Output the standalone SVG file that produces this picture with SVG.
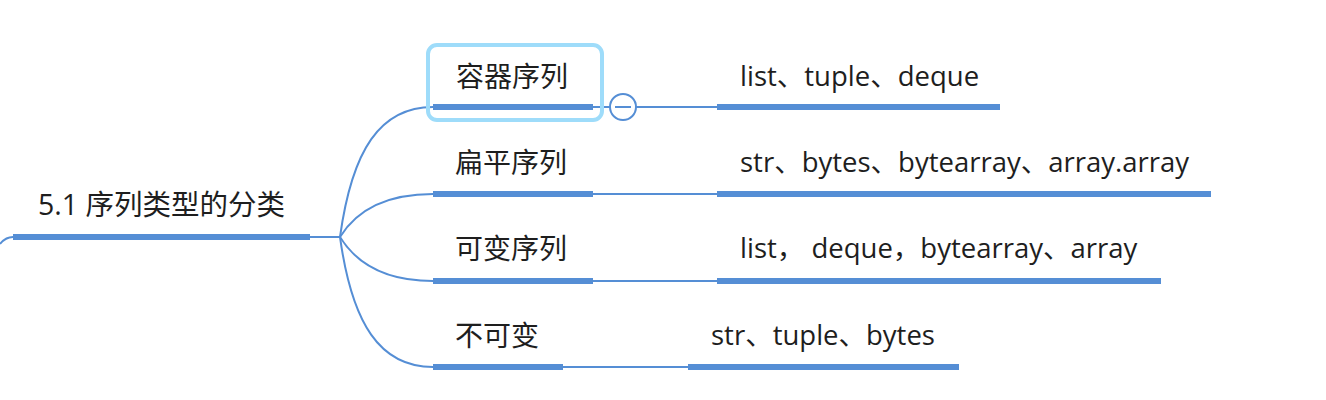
<svg xmlns="http://www.w3.org/2000/svg" width="1326" height="400" viewBox="0 0 1326 400">
<style>
.t{font-family:"Open Sans","Noto Sans CJK SC",sans-serif;font-size:27.5px;fill:#1e1e1e}
.c{font-size:28px}
.r{font-size:28.5px}
.bar{stroke:#558ed5;stroke-width:6;fill:none}
.ln{stroke:#558ed5;stroke-width:2;fill:none}
</style>
<rect width="1326" height="400" fill="#ffffff"/>
<g id="connectors">
<path class="ln" d="M0 244 C4 239 8 237 13 237"/>
<path class="ln" d="M310 237 L340 237"/>
<path class="ln" d="M340 237 C352 150 380 107 433 107"/>
<path class="ln" d="M340 237 C358 208 390 194 433 194"/>
<path class="ln" d="M340 237 C358 266 390 281 433 281"/>
<path class="ln" d="M340 237 C352 324 380 367 433 367"/>
<path class="ln" d="M593 107 L610 107 M636 107 L717 107"/>
<path class="ln" d="M593 194 L717 194"/>
<path class="ln" d="M593 281 L717 281"/>
<path class="ln" d="M563 367 L688 367"/>
</g>
<g id="root">
<line class="bar" x1="13" y1="237" x2="310" y2="237"/>
<text class="t r" x="38" y="215">5.1 序列类型的分类</text>
</g>
<g id="n1">
<rect x="428" y="45" width="174" height="75" rx="9" fill="none" stroke="#9edcfa" stroke-width="4"/>
<line class="bar" x1="433" y1="107" x2="593" y2="107"/>
<text class="t c" x="456" y="87">容器序列</text>
<g id="collapse">
<circle cx="623" cy="107" r="13" fill="#ffffff" stroke="#558ed5" stroke-width="2"/>
<line x1="615" y1="107" x2="631" y2="107" stroke="#558ed5" stroke-width="2"/>
</g>
</g>
<g id="n1a">
<line class="bar" x1="717" y1="107" x2="1000" y2="107"/>
<text class="t" x="740" y="86">list、tuple、deque</text>
</g>
<g id="n2">
<line class="bar" x1="433" y1="194" x2="593" y2="194"/>
<text class="t c" x="455" y="173">扁平序列</text>
</g>
<g id="n2a">
<line class="bar" x1="717" y1="194" x2="1211" y2="194"/>
<text class="t" x="740" y="172">str、bytes、bytearray、array.array</text>
</g>
<g id="n3">
<line class="bar" x1="433" y1="281" x2="593" y2="281"/>
<text class="t c" x="455" y="259">可变序列</text>
</g>
<g id="n3a">
<line class="bar" x1="717" y1="281" x2="1161" y2="281"/>
<text class="t" x="740" y="258">list， deque，bytearray、array</text>
</g>
<g id="n4">
<line class="bar" x1="433" y1="367" x2="563" y2="367"/>
<text class="t c" x="455" y="346">不可变</text>
</g>
<g id="n4a">
<line class="bar" x1="688" y1="367" x2="959" y2="367"/>
<text class="t" x="711" y="345">str、tuple、bytes</text>
</g>
</svg>
